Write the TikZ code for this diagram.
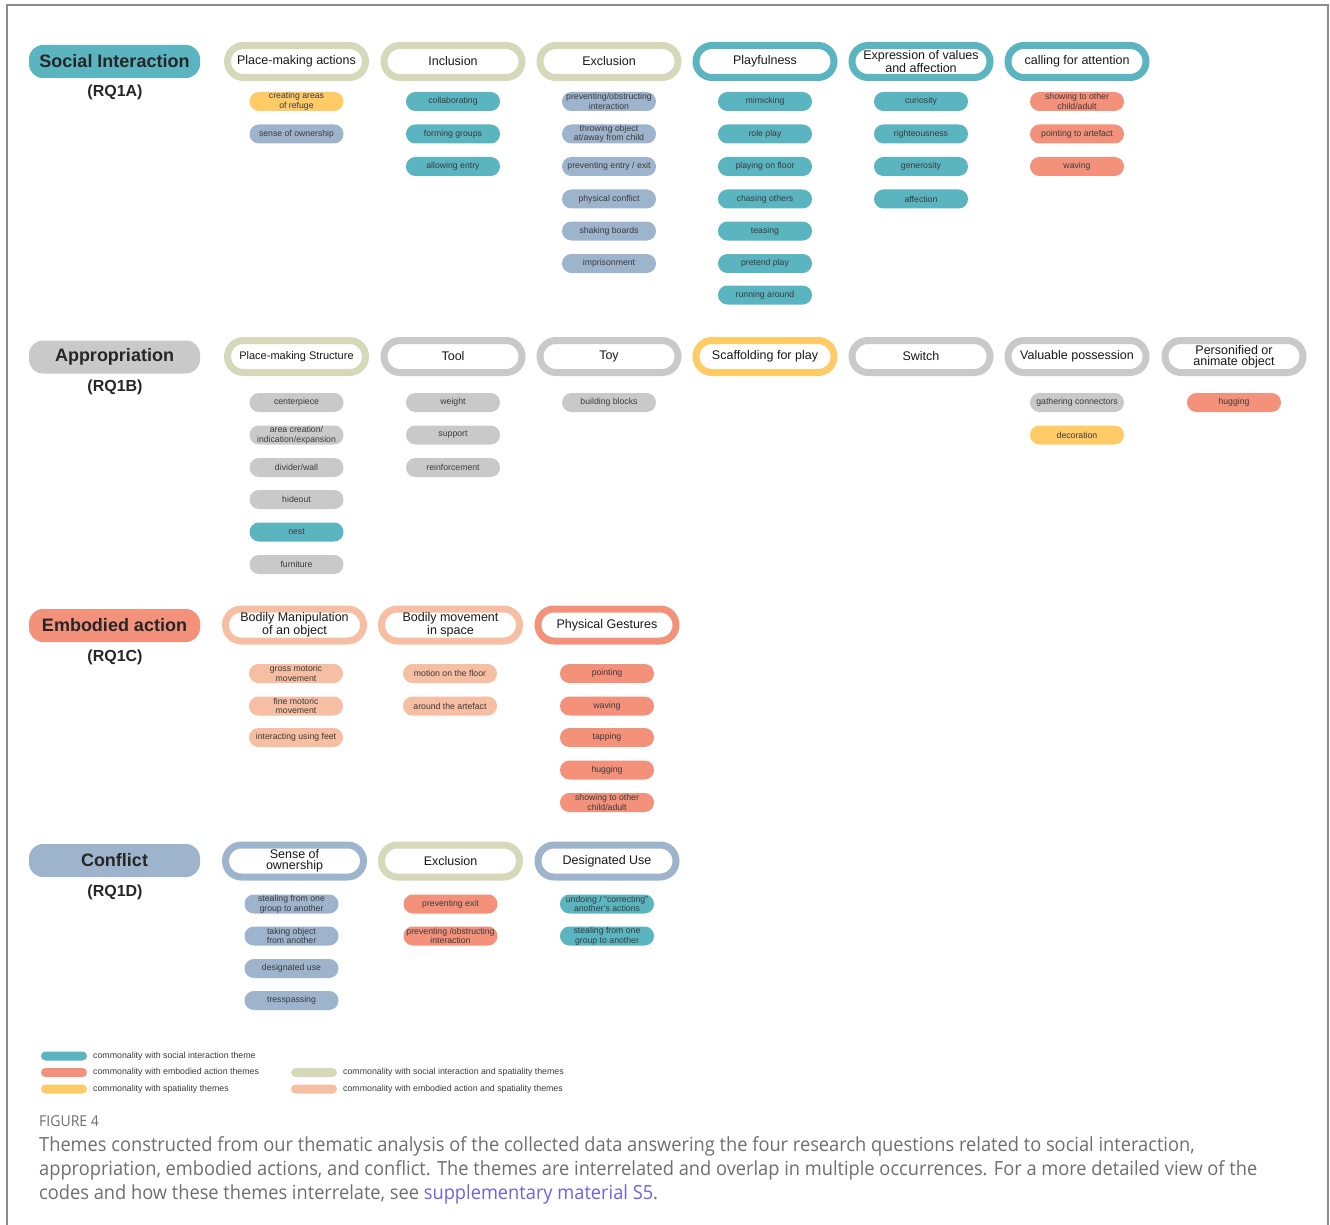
\documentclass[tikz,border=0pt]{standalone}
\usepackage{fontspec}
\setmainfont{Liberation Sans}
\newfontfamily\capfont[FakeStretch=0.936]{Open Sans}
\definecolor{tealc}{HTML}{5BB5C0}
\definecolor{salmonc}{HTML}{F4917B}
\definecolor{yellowc}{HTML}{FECB67}
\definecolor{bluegreyc}{HTML}{9EB4CC}
\definecolor{greyc}{HTML}{C9C9C9}
\definecolor{olivec}{HTML}{D6D9B9}
\definecolor{peachc}{HTML}{F6BFA3}
\definecolor{txtc}{HTML}{3A3A3A}
\definecolor{framec}{HTML}{8C8C8C}
\definecolor{capc}{HTML}{6E6E6E}
\definecolor{linkc}{HTML}{7060E8}

\begin{document}
\begin{tikzpicture}[x=1pt,y=-1pt,
    head/.style={fill=#1,rounded corners=14pt,minimum width=171pt,
        minimum height=33pt,inner sep=0pt,text=black!85,
        font={\bfseries\fontsize{18}{18}\selectfont}},
    rq/.style={text=black!85,font={\bfseries\fontsize{16}{16}\selectfont}},
    theme/.style={draw=#1,line width=7pt,fill=white,rounded corners=15.9pt,
        minimum width=138pt,minimum height=32pt,inner sep=0pt,align=center,
        text=black!90,font={\fontsize{12.5}{11}\selectfont}},
    code/.style={fill=#1,rounded corners=9.4pt,minimum width=94pt,
        minimum height=19pt,inner sep=0pt,align=center,text=txtc,
        font={\fontsize{8.7}{9.5}\selectfont}},
    swatch/.style={fill=#1,rounded corners=4.5pt,minimum width=46pt,
        minimum height=9pt,inner sep=0pt},
    legend/.style={anchor=west,inner sep=0pt,text=txtc,
        font={\fontsize{8.8}{8.8}\selectfont}}]
\useasboundingbox (0,0) rectangle (1330,1225);
\draw[framec,line width=1.5pt] (7,1225) -- (7,5) -- (1328,5) -- (1328,1225);

% RQ1A
\node[head=tealc] (si) at (114.5,61.5) {Social Interaction};
\node[rq] (si-rq) at (115,92) {(RQ1A)};
\node[theme=olivec] (si1) at (296.5,61.5) {Place-making actions};
\node[code=yellowc] (si1-1) at (296.5,101.5) {creating areas\\of refuge};
\node[code=bluegreyc] (si1-2) at (296.5,134) {sense of ownership};
\node[theme=olivec] (si2) at (453,61.5) {Inclusion};
\node[code=tealc] (si2-1) at (453,101.5) {collaborating};
\node[code=tealc] (si2-2) at (453,134) {forming groups};
\node[code=tealc] (si2-3) at (453,166.5) {allowing entry};
\node[theme=olivec] (si3) at (609,61.5) {Exclusion};
\node[code=bluegreyc] (si3-1) at (609,101.5) {preventing/obstructing\\interaction};
\node[code=bluegreyc] (si3-2) at (609,134) {throwing object\\at/away from child};
\node[code=bluegreyc] (si3-3) at (609,166.5) {preventing entry / exit};
\node[code=bluegreyc] (si3-4) at (609,199) {physical conflict};
\node[code=bluegreyc] (si3-5) at (609,231) {shaking boards};
\node[code=bluegreyc] (si3-6) at (609,263.5) {imprisonment};
\node[theme=tealc] (si4) at (765,61.5) {Playfulness};
\node[code=tealc] (si4-1) at (765,101.5) {mimicking};
\node[code=tealc] (si4-2) at (765,134) {role play};
\node[code=tealc] (si4-3) at (765,166.5) {playing on floor};
\node[code=tealc] (si4-4) at (765,199) {chasing others};
\node[code=tealc] (si4-5) at (765,231) {teasing};
\node[code=tealc] (si4-6) at (765,263.5) {pretend play};
\node[code=tealc] (si4-7) at (765,295) {running around};
\node[theme=tealc] (si5) at (921,61.5) {Expression of values\\and affection};
\node[code=tealc] (si5-1) at (921,101.5) {curiosity};
\node[code=tealc] (si5-2) at (921,134) {righteousness};
\node[code=tealc] (si5-3) at (921,166.5) {generosity};
\node[code=tealc] (si5-4) at (921,199) {affection};
\node[theme=tealc] (si6) at (1077,61.5) {calling for attention};
\node[code=salmonc] (si6-1) at (1077,101.5) {showing to other\\child/adult};
\node[code=salmonc] (si6-2) at (1077,134) {pointing to artefact};
\node[code=salmonc] (si6-3) at (1077,166.5) {waving};

% RQ1B
\node[head=greyc] (ap) at (114.5,357) {Appropriation};
\node[rq] (ap-rq) at (115,387) {(RQ1B)};
\node[theme=olivec,font={\fontsize{11}{11}\selectfont}] (ap1) at (296.5,356.5) {Place-making Structure};
\node[code=greyc] (ap1-1) at (296.5,402.5) {centerpiece};
\node[code=greyc] (ap1-2) at (296.5,435) {area creation/\\indication/expansion};
\node[code=greyc] (ap1-3) at (296.5,467.5) {divider/wall};
\node[code=greyc] (ap1-4) at (296.5,499.5) {hideout};
\node[code=tealc] (ap1-5) at (296.5,532) {nest};
\node[code=greyc] (ap1-6) at (296.5,564.5) {furniture};
\node[theme=greyc] (ap2) at (453,356.5) {Tool};
\node[code=greyc] (ap2-1) at (453,402.5) {weight};
\node[code=greyc] (ap2-2) at (453,435) {support};
\node[code=greyc] (ap2-3) at (453,467.5) {reinforcement};
\node[theme=greyc] (ap3) at (609,356.5) {Toy};
\node[code=greyc] (ap3-1) at (609,402.5) {building blocks};
\node[theme=yellowc] (ap4) at (765,356.5) {Scaffolding for play};
\node[theme=greyc] (ap5) at (921,356.5) {Switch};
\node[theme=greyc] (ap6) at (1077,356.5) {Valuable possession};
\node[code=greyc] (ap6-1) at (1077,402.5) {gathering connectors};
\node[code=yellowc] (ap6-2) at (1077,435) {decoration};
\node[theme=greyc] (ap7) at (1234,356.5) {Personified or\\animate object};
\node[code=salmonc] (ap7-1) at (1234,402.5) {hugging};

% RQ1C
\node[head=salmonc] (ea) at (114.5,625.5) {Embodied action};
\node[rq] (ea-rq) at (115,657) {(RQ1C)};
\node[theme=peachc] (ea1) at (294.5,625) {Bodily Manipulation\\of an object};
\node[code=peachc] (ea1-1) at (296,673.5) {gross motoric\\movement};
\node[code=peachc] (ea1-2) at (296,706) {fine motoric\\movement};
\node[code=peachc] (ea1-3) at (296,737.5) {interacting using feet};
\node[theme=peachc] (ea2) at (450.5,625) {Bodily movement\\in space};
\node[code=peachc] (ea2-1) at (450,673.5) {motion on the floor};
\node[code=peachc] (ea2-2) at (450,706) {around the artefact};
\node[theme=salmonc] (ea3) at (607,625) {Physical Gestures};
\node[code=salmonc] (ea3-1) at (607,673.5) {pointing};
\node[code=salmonc] (ea3-2) at (607,706) {waving};
\node[code=salmonc] (ea3-3) at (607,737.5) {tapping};
\node[code=salmonc] (ea3-4) at (607,770) {hugging};
\node[code=salmonc] (ea3-5) at (607,802.5) {showing to other\\child/adult};

% RQ1D
\node[head=bluegreyc] (cf) at (114.5,860.5) {Conflict};
\node[rq] (cf-rq) at (115,892) {(RQ1D)};
\node[theme=bluegreyc] (cf1) at (294.5,861) {Sense of\\ownership};
\node[code=bluegreyc] (cf1-1) at (291.5,904) {stealing from one\\group to another};
\node[code=bluegreyc] (cf1-2) at (291.5,936) {taking object\\from another};
\node[code=bluegreyc] (cf1-3) at (291.5,968.5) {designated use};
\node[code=bluegreyc] (cf1-4) at (291.5,1000.5) {tresspassing};
\node[theme=olivec] (cf2) at (450.5,861) {Exclusion};
\node[code=salmonc] (cf2-1) at (450.5,904) {preventing exit};
\node[code=salmonc] (cf2-2) at (450.5,936) {preventing /obstructing\\interaction};
\node[theme=bluegreyc] (cf3) at (607,861) {Designated Use};
\node[code=tealc] (cf3-1) at (607,904) {undoing / “correcting”\\another’s actions};
\node[code=tealc] (cf3-2) at (607,936) {stealing from one\\group to another};

% legend
\node[swatch=tealc] (lg1) at (64,1056) {};
\node[legend] (lg1-t) at (93,1056) {commonality with social interaction theme};
\node[swatch=salmonc] (lg2) at (64,1072.5) {};
\node[legend] (lg2-t) at (93,1072.5) {commonality with embodied action themes};
\node[swatch=yellowc] (lg3) at (64,1089) {};
\node[legend] (lg3-t) at (93,1089) {commonality with spatiality themes};
\node[swatch=olivec] (lg4) at (314,1072.5) {};
\node[legend] (lg4-t) at (343,1072.5) {commonality with social interaction and spatiality themes};
\node[swatch=peachc] (lg5) at (314,1089) {};
\node[legend] (lg5-t) at (343,1089) {commonality with embodied action and spatiality themes};

% caption
\node[anchor=west,inner sep=0pt,text=capc,font={\capfont\fontsize{15}{15}\selectfont}] (fig) at (39,1121.5) {FIGURE 4};
\node[anchor=north west,inner sep=0pt,align=left,text=capc,font={\capfont\fontsize{19.5}{24}\selectfont}] (cap) at (39,1136)
  {Themes constructed from our thematic analysis of the collected data answering the four research questions related to social interaction,\\
   appropriation, embodied actions, and conflict. The themes are interrelated and overlap in multiple occurrences. For a more detailed view of the\\
   codes and how these themes interrelate, see \textcolor{linkc}{supplementary material S5}.};
\end{tikzpicture}
\end{document}
